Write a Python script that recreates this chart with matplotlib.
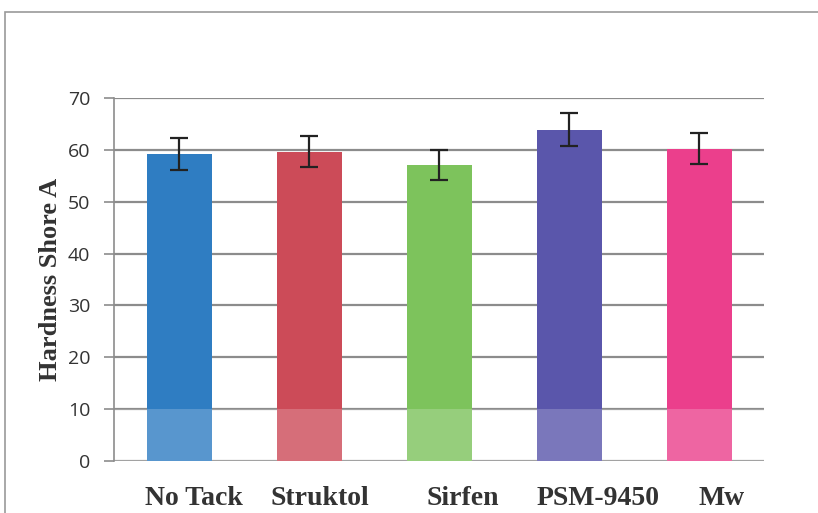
import matplotlib
matplotlib.use("Agg")
import matplotlib.pyplot as plt
from matplotlib.patches import Rectangle
from matplotlib.transforms import ScaledTranslation

categories = ["No Tack", "Struktol", "Sirfen", "PSM-9450", "Mw"]
hardness = [59.2, 59.6, 57.1, 63.9, 60.2]
errors = [3.0, 3.0, 2.9, 3.2, 3.0]
colors = ["#2f7dc2", "#cc4b58", "#7dc35c", "#5a56ab", "#eb3f8c"]
yticks = [0, 10, 20, 30, 40, 50, 60, 70]

fig = plt.figure(figsize=(8.18, 5.13), dpi=100)
fig.patch.set_facecolor("white")

# outer chart frame
fig.patches.append(Rectangle((5 / 818, -0.05), 1.0, 1 - 12 / 513 + 0.05,
                             transform=fig.transFigure, fill=False,
                             edgecolor="#9a9a9a", linewidth=1.2))

ax = fig.add_axes([114 / 818, 52 / 513, 650 / 818, 363 / 513])
x = list(range(len(categories)))
ax.bar(x, hardness, width=0.5, color=colors, zorder=2,
       yerr=errors, error_kw=dict(ecolor="#222222", elinewidth=1.6,
                                  capsize=6.5, capthick=1.6, zorder=3))

# lighter band near the base of the bars
ax.axhspan(0, 10, color="white", alpha=0.2, zorder=2.5, lw=0)

ax.set_xlim(-0.5, len(categories) - 0.5)
ax.set_ylim(0, 70)
ax.set_yticks(yticks)
ax.set_yticklabels([str(t) for t in yticks], family="Open Sans",
                   fontsize=14, color="#333333")
ax.yaxis.grid(True, color="#8c8c8c", linewidth=1.6, zorder=1)
ax.set_axisbelow(True)
ax.tick_params(axis="y", length=7, width=1.2, color="#8c8c8c", pad=10)
ax.tick_params(axis="x", length=0, pad=18)
ax.set_xticks(x)
ax.set_xticklabels(categories, family="Liberation Serif", fontweight="bold",
                   fontsize=20, color="#333333")

# category labels sit a little to the right of their bars
label_shift_px = [15, 11, 24, 29, 23]
for lbl, dx in zip(ax.get_xticklabels(), label_shift_px):
    lbl.set_transform(lbl.get_transform() +
                      ScaledTranslation(dx / 100, 0, fig.dpi_scale_trans))

for s in ["top", "right", "bottom"]:
    ax.spines[s].set_visible(False)
ax.spines["left"].set_color("#8c8c8c")
ax.spines["left"].set_linewidth(1.2)

ax.set_ylabel("Hardness Shore A", family="Liberation Serif", fontweight="bold",
              fontsize=19, color="#333333", labelpad=4)

fig.savefig("out.png", dpi=100, facecolor="white")
